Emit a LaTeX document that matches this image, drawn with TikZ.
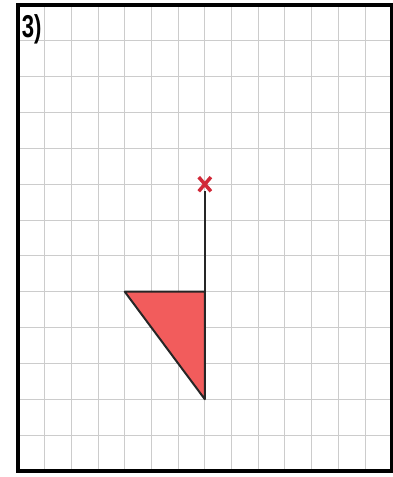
\documentclass[tikz,border=0pt]{standalone}
\usepackage{fontspec}
\setmainfont{Liberation Sans}
\usetikzlibrary{positioning,shapes.misc}
\definecolor{gridgray}{rgb}{0.80,0.80,0.80}
\definecolor{trired}{rgb}{0.95,0.36,0.36}
\definecolor{markred}{rgb}{0.82,0.16,0.22}

\begin{document}
\begin{tikzpicture}[x=0.801cm, y=-1.0755cm,
      gridline/.style={draw=gridgray, line width=0.7pt},
      frame/.style={draw=black, line width=3.4pt},
      tri/.style={draw=black!85, fill=trired, line width=1.7pt, line join=round},
      stem/.style={draw=black!85, line width=1.8pt},
      goal/.style={cross out, draw=markred, line width=3pt,
                   minimum width=0.26cm, minimum height=0.32cm, inner sep=0pt},
      lbl/.style={anchor=north west, inner sep=0pt, xscale=0.7, transform shape,
                  font=\fontsize{27}{27}\selectfont\bfseries}
  ]
    \useasboundingbox (-0.674,-0.14) rectangle (14.045,13.17);
    % grid
    \foreach \i in {1,...,13} \draw[gridline] (\i,0) -- (\i,13);
    \foreach \j in {1,...,12} \draw[gridline] (0,\j) -- (14,\j);
    \draw[frame] (0,0) rectangle (14,13);
    \node[lbl] (num) at (0.14,0.27) {3)};
    % shape
    \coordinate (left) at (4,8);
    \coordinate (corner) at (7,8);
    \coordinate (tip) at (7,11);
    \node[goal] (goal) at (7,5) {};
    \draw[stem] (corner) -- (goal);
    \draw[tri] (left) -- (corner) -- (tip) -- cycle;
  \end{tikzpicture}
\end{document}
